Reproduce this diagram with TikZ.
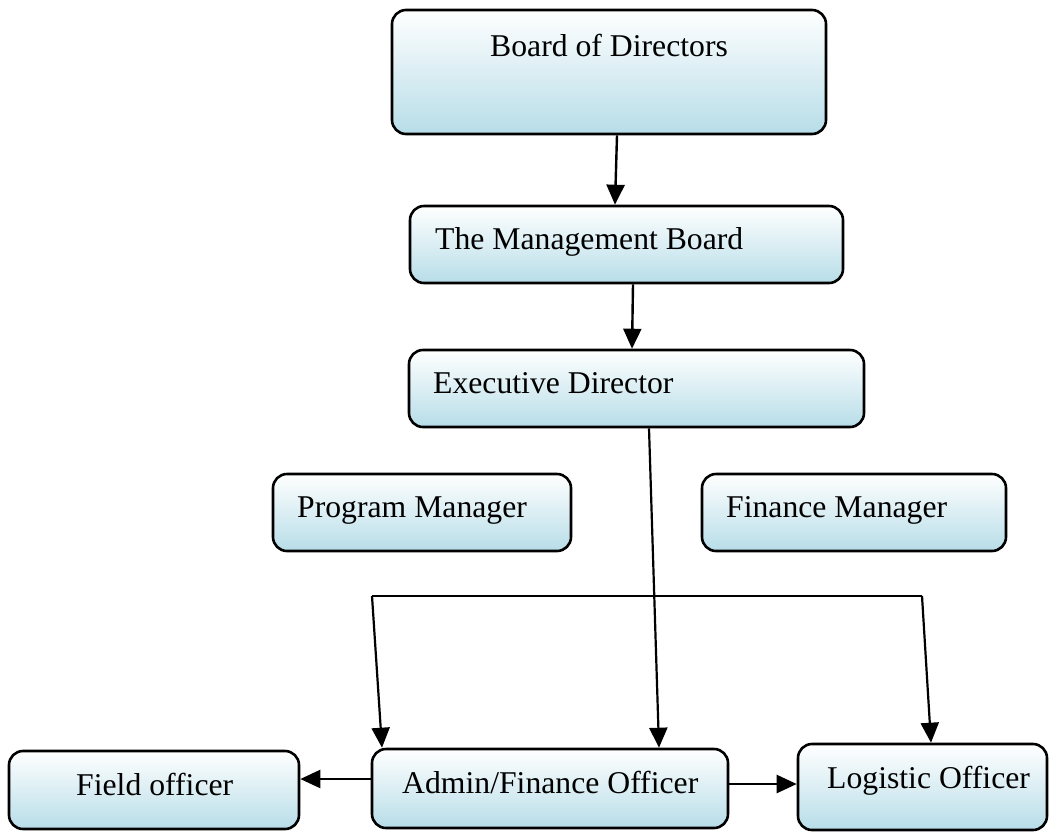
\documentclass[tikz,border=0pt]{standalone}
\usepackage{fontspec}
\setmainfont{Liberation Serif}
\usetikzlibrary{arrows.meta}
\definecolor{lb}{RGB}{183,221,232}
\tikzset{
  box/.style={draw=black, line width=2.6pt, rounded corners=14pt, top color=white, bottom color=lb, inner sep=0pt},
  txt/.style={anchor=base west, inner sep=0pt, font=\fontsize{31.7}{38}\selectfont},
  tipA/.tip={Triangle[length=20pt,width=18pt]},
  conn/.style={line width=2.4pt, -tipA},
  bus/.style={line width=2.2pt},
  busarr/.style={line width=2.2pt, -tipA}
}
\begin{document}
\begin{tikzpicture}[x=1pt,y=-1pt]
\useasboundingbox (0,0) rectangle (1049,831);
% boxes
\node[box, minimum width=434pt, minimum height=124pt] (board) at (609,72) {};
\node[box, minimum width=433pt, minimum height=77pt] (mgmt) at (626.5,244.5) {};
\node[box, minimum width=455pt, minimum height=77pt] (exec) at (636.5,388.5) {};
\node[box, minimum width=298pt, minimum height=77pt] (prog) at (422,512.5) {};
\node[box, minimum width=304pt, minimum height=77pt] (fin) at (854,512.5) {};
\node[box, minimum width=290pt, minimum height=78pt] (field) at (154,790) {};
\node[box, minimum width=356pt, minimum height=79pt] (admin) at (550,788.5) {};
\node[box, minimum width=249pt, minimum height=86pt] (logi) at (922.5,787) {};
% texts
\node[txt] (boardT) at (490,56) {Board of Directors};
\node[txt] (mgmtT) at (435,249) {The Management Board};
\node[txt] (execT) at (433,393) {Executive Director};
\node[txt] (progT) at (297,517) {Program Manager};
\node[txt] (finT) at (726,517) {Finance Manager};
\node[txt] (fieldT) at (76,795) {Field officer};
\node[txt] (adminT) at (402,793) {Admin/Finance Officer};
\node[txt] (logiT) at (827,788) {Logistic Officer};
% connectors
\draw[conn] ([xshift=8pt]board.south) -- ([xshift=-11.5pt]mgmt.north);
\draw[conn] ([xshift=6.5pt]mgmt.south) -- ([xshift=-4.5pt]exec.north);
\draw[busarr] ([xshift=12.5pt]exec.south) -- ([xshift=109pt]admin.north);
\coordinate (busL) at (372,596);
\coordinate (busR) at (922,596);
\draw[bus] (busL) -- (busR);
\draw[busarr] (busL) -- ([xshift=-168pt]admin.north);
\draw[busarr] (busR) -- ([xshift=8.5pt]logi.north);
\draw[conn] ([yshift=9.5pt]admin.west) -- ([yshift=11pt]field.east);
\draw[conn] ([yshift=4.5pt]admin.east) -- ([yshift=3pt]logi.west);
\end{tikzpicture}
\end{document}
